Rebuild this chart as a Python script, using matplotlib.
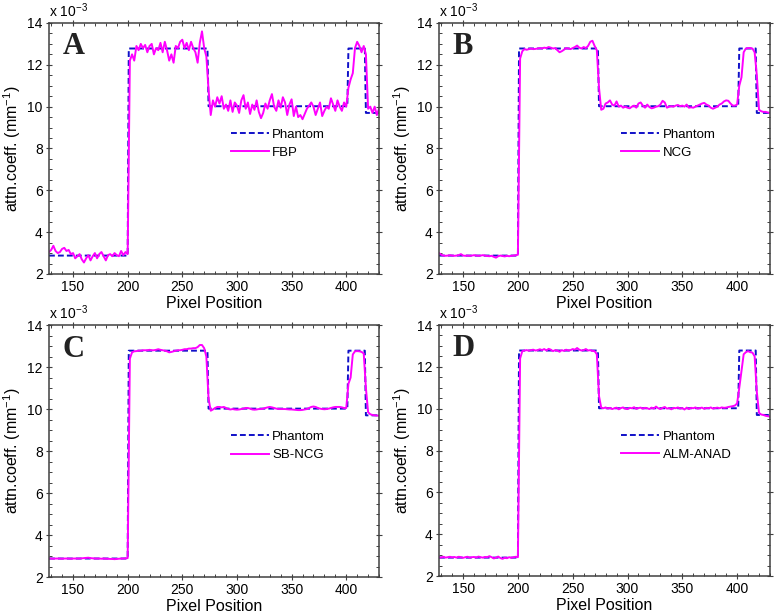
import numpy as np
import matplotlib
matplotlib.use("Agg")
import matplotlib.pyplot as plt
from matplotlib.ticker import MultipleLocator

plt.rcParams['font.family'] = ['Liberation Sans', 'DejaVu Sans']
plt.rcParams['mathtext.fontset'] = 'custom'
plt.rcParams['mathtext.rm'] = 'Liberation Sans'
plt.rcParams['mathtext.it'] = 'Liberation Sans:italic'

# phantom profile (units of 1e-3 mm^-1)
phantom_x = [128, 200, 201, 273, 274, 401, 402, 417, 418, 430]
phantom_y = [2.88, 2.88, 12.78, 12.78, 10.02, 10.02, 12.78, 12.78, 9.70, 9.70]

# reconstructed profiles, sampled every 2 pixels from 128 to 430
fbp = [3.05, 3.15, 3.35, 3.10, 3.00, 3.05, 3.20, 3.25, 3.10, 3.15, 2.95, 3.00, 2.75, 2.85, 2.95, 2.70, 2.55, 2.75, 2.90,
       2.65, 2.85, 3.00, 2.75, 2.95, 3.05, 2.85, 2.65, 2.90, 2.95, 2.85, 3.00, 2.90, 2.85, 3.10, 2.90, 3.05, 2.95,
       12.2, 12.5, 12.2, 12.9, 12.7, 13.0, 12.8, 12.95, 12.6, 12.9, 13.0, 12.5, 12.8, 12.7, 13.05, 12.6, 13.1, 12.7,
       12.2, 12.5, 12.1, 12.9, 12.8, 13.1, 13.2, 12.8, 13.05, 12.7, 13.1, 12.8, 12.6, 12.1, 13.05, 13.6, 12.8, 12.4,
       10.8, 9.6, 10.3, 10.0, 10.45, 10.15, 10.5, 9.9, 10.1, 9.8, 10.3, 9.75, 10.2, 10.05, 9.7, 10.3, 10.55, 9.9, 10.2,
       9.65, 10.1, 9.85, 10.3, 9.75, 9.45, 9.7, 10.15, 9.9, 10.3, 10.6, 10.0, 9.8, 10.3, 9.95, 10.45, 10.2, 9.6, 10.1,
       10.35, 9.55, 10.0, 9.5, 9.6, 9.4, 9.65, 9.9, 10.05, 10.2, 10.0, 9.6, 9.9, 10.2, 9.55, 9.8, 10.0, 9.9, 10.4, 10.1,
       9.8, 10.3, 10.0, 9.8, 10.2, 10.0,
       10.9, 11.3, 11.6, 12.8, 13.1, 12.9, 12.6, 12.9, 12.5, 9.9, 10.0, 9.7, 10.0, 9.6, 9.9]

ncg = [3.0, 2.92, 2.88, 2.87, 2.88, 2.9, 2.88, 2.87, 2.88, 2.9, 2.95, 2.88, 2.87, 2.88, 2.87, 2.88, 2.9, 2.88, 2.87,
       2.88, 2.9, 2.88, 2.86, 2.85, 2.87, 2.82, 2.78, 2.85, 2.88, 2.86, 2.84, 2.87, 2.85, 2.87, 2.88, 2.9, 2.92,
       12.3, 12.65, 12.75, 12.72, 12.75, 12.78, 12.75, 12.76, 12.78, 12.8, 12.78, 12.82, 12.8, 12.85, 12.82, 12.78,
       12.8, 12.7, 12.6, 12.65, 12.72, 12.8, 12.78, 12.75, 12.8, 12.85, 12.92, 12.82, 12.78, 12.85, 12.8, 12.9, 13.1,
       13.15, 12.9, 12.7,
       10.9, 9.85, 9.9, 10.15, 10.2, 10.3, 10.1, 10.05, 10.25, 10.0, 10.05, 9.95, 10.0, 9.95, 9.92, 10.0, 10.05, 9.95,
       10.15, 10.2, 10.05, 9.95, 10.1, 9.98, 9.92, 9.95, 10.0, 10.02, 10.1, 10.28, 10.2, 9.95, 10.0, 10.02, 10.0, 10.05,
       10.08, 10.02, 10.05, 10.0, 10.1, 9.95, 9.97, 9.95, 10.0, 10.05, 10.1, 10.15, 10.18, 10.1, 10.05, 9.95, 9.9, 9.95,
       10.0, 10.1, 10.15, 10.25, 10.3, 10.28, 10.15, 10.05, 10.05, 10.1,
       11.0, 11.4, 12.6, 12.78, 12.8, 12.8, 12.78, 12.6, 11.5, 9.85, 9.78, 9.75, 9.75, 9.72, 9.7]

sb_ncg = [2.88, 2.88, 2.87, 2.88, 2.88, 2.88, 2.87, 2.88, 2.88, 2.88, 2.87, 2.88, 2.88, 2.88, 2.88, 2.89, 2.9, 2.91,
          2.92, 2.9, 2.89, 2.88, 2.88, 2.88, 2.87, 2.88, 2.87, 2.87, 2.86, 2.86, 2.85, 2.86, 2.87, 2.88, 2.88, 2.89, 2.9,
          12.4, 12.7, 12.75, 12.76, 12.78, 12.78, 12.8, 12.8, 12.8, 12.82, 12.8, 12.8, 12.82, 12.85, 12.82, 12.8, 12.78,
          12.75, 12.7, 12.72, 12.75, 12.78, 12.8, 12.8, 12.82, 12.85, 12.85, 12.88, 12.88, 12.9, 12.9, 12.95, 13.05,
          13.05, 12.9, 12.5,
          10.5, 9.92, 9.98, 10.05, 10.1, 10.1, 10.08, 10.1, 10.05, 10.0,
          9.98, 10.0, 9.98, 9.97, 9.98, 10.0, 10.02, 10.05, 10.05, 10.02,
          9.98, 9.97, 9.98, 10.0, 10.0, 10.02, 10.05, 10.08, 10.1, 10.08,
          10.05, 10.02, 10.0, 10.0, 10.0, 10.0, 9.99, 9.98, 9.98, 9.97,
          9.96, 9.95, 9.95, 9.96, 9.98, 10.0, 10.05, 10.1, 10.12, 10.1,
          10.05, 10.02, 10.0, 9.99, 10.0, 10.02, 10.05, 10.08, 10.1, 10.1,
          10.1, 10.08, 10.05, 10.05,
          11.2, 11.5, 12.6, 12.75, 12.76, 12.75, 12.72, 12.65, 11.0, 9.85, 9.75, 9.72, 9.7, 9.69, 9.68]

alm_anad = [2.9, 2.88, 2.92, 2.88, 2.9, 2.92, 2.89, 2.91, 2.88, 2.92, 2.9, 2.87, 2.9, 2.92, 2.88, 2.9, 2.91, 2.88,
            2.93, 2.9, 2.88, 2.91, 2.9, 2.95, 2.9, 2.84, 2.88, 2.93, 2.86, 2.82, 2.88, 2.85, 2.9, 2.87, 2.9, 2.92, 2.9,
            12.4, 12.75, 12.78, 12.8, 12.77, 12.8, 12.82, 12.78, 12.8, 12.84, 12.8, 12.85, 12.78, 12.86, 12.82, 12.75,
            12.8, 12.78, 12.72, 12.8, 12.76, 12.82, 12.78, 12.8, 12.85, 12.82, 12.9, 12.82, 12.78, 12.8, 12.85, 12.78,
            12.8, 12.76, 12.75, 12.6,
            10.6, 10.05, 10.02, 10.06, 10.0, 10.04, 9.98, 10.02, 10.05, 9.97, 10.03, 10.06, 10.0, 9.98, 10.04, 10.02,
            10.07, 9.99, 10.03, 10.05, 10.0, 10.04, 10.02, 9.98, 10.05, 10.0, 10.1, 10.02, 9.98, 10.04, 10.08, 10.0,
            10.03, 9.97, 10.04, 10.02, 10.06, 10.0, 10.03, 9.96, 10.05, 9.98, 10.04, 10.02, 10.06, 10.0, 10.03, 10.05,
            9.99, 10.04, 10.02, 10.06, 10.0, 10.03, 10.05, 10.02, 10.06, 10.04, 10.05, 10.08, 10.1, 10.12, 10.15, 10.25,
            11.0, 11.8, 12.6, 12.7, 12.75, 12.7, 12.68, 12.5, 10.8, 9.8, 9.72, 9.7, 9.66, 9.64, 9.62]

recon_x = np.arange(128, 431, 2)
recons = [fbp, ncg, sb_ncg, alm_anad]
recon_names = ['FBP', 'NCG', 'SB-NCG', 'ALM-ANAD']
panel_letters = ['A', 'B', 'C', 'D']

fig = plt.figure(figsize=(7.74, 6.16), dpi=100)
positions = [
    [0.0633, 0.5552, 0.4264, 0.4075],
    [0.5672, 0.5552, 0.4276, 0.4075],
    [0.0633, 0.0633, 0.4264, 0.4090],
    [0.5672, 0.0649, 0.4276, 0.4075],
]
spine_col = '#404040'

for pos, vals, name, letter in zip(positions, recons, recon_names, panel_letters):
    ax = fig.add_axes(pos)
    ax.plot(phantom_x, phantom_y, color='#1010c8', ls='--', lw=1.4, dashes=(3, 1.6), label='Phantom')
    ax.plot(recon_x, vals, color='#ff00ff', lw=1.4, label=name)
    ax.set_xlim(128, 430)
    ax.set_ylim(2, 14)
    ax.xaxis.set_major_locator(MultipleLocator(50))
    ax.xaxis.set_minor_locator(MultipleLocator(10))
    ax.yaxis.set_major_locator(MultipleLocator(2))
    ax.yaxis.set_minor_locator(MultipleLocator(0.5))
    ax.tick_params(which='both', top=True, right=True, colors=spine_col,
                   labelcolor='black', labelsize=10, pad=2)
    ax.tick_params(which='major', direction='inout', length=5, width=0.8)
    ax.tick_params(which='minor', direction='in', length=2.5, width=0.7)
    for s in ax.spines.values():
        s.set_color(spine_col)
        s.set_linewidth(1.1)
    ax.set_xlabel('Pixel Position', fontsize=11.5, labelpad=1)
    ax.set_ylabel('attn.coeff. (mm$^{-1}$)', fontsize=11.5, labelpad=3)
    ax.text(0.0, 1.012, 'x 10$^{-3}$', transform=ax.transAxes, fontsize=10, va='bottom', ha='left')
    ax.text(0.042, 0.875, letter, transform=ax.transAxes, fontsize=22, fontweight='bold',
            family='Liberation Serif', color='#222222', va='baseline', ha='left')
    ax.legend(loc='upper left', bbox_to_anchor=(0.55, 0.58), frameon=False, fontsize=9.5,
              handlelength=2.9, handletextpad=0.25, labelspacing=0.45, borderpad=0, borderaxespad=0)

plt.savefig('out.png', dpi=100)
